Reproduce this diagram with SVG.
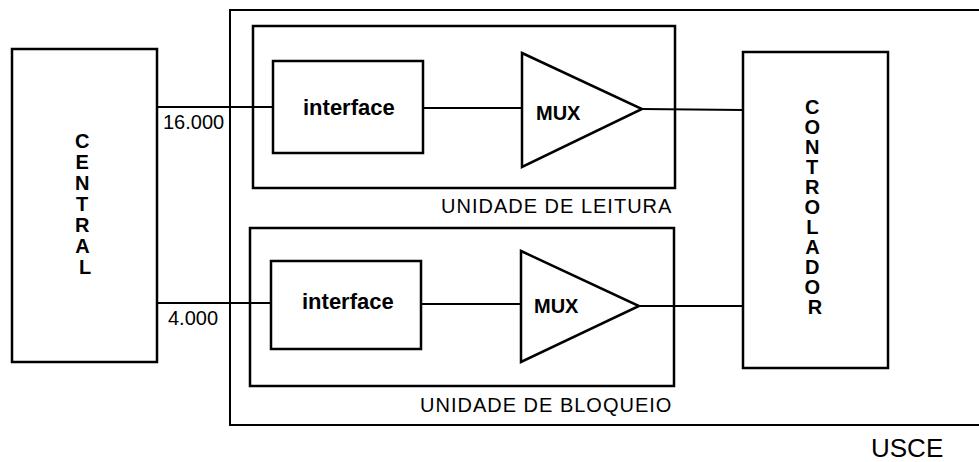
<svg xmlns="http://www.w3.org/2000/svg" width="979" height="462" viewBox="0 0 979 462">
  <style>
    .box { fill: none; stroke: #000; stroke-width: 2.5; }
    .frame { fill: none; stroke: #000; stroke-width: 2; }
    .wire { fill: none; stroke: #000; stroke-width: 2; }
    .t { font-family: "Liberation Sans", Arial, sans-serif; fill: #000; }
    .lbl { font-size: 22px; font-weight: bold; }
    .mux { font-size: 20px; font-weight: bold; }
    .unit { font-size: 20px; letter-spacing: 1px; }
    .num { font-size: 20px; }
    .vert { font-size: 20px; font-weight: bold; text-anchor: middle; }
  </style>

  <!-- USCE enclosure, open at the right edge -->
  <g id="usce">
    <path class="frame" d="M979,10 H230 V425 H979"/>
    <text class="t" x="871" y="457" font-size="26">USCE</text>
  </g>

  <g id="central">
    <rect class="box" x="12" y="49" width="145" height="313"/>
    <text class="t vert" x="85">
      <tspan x="85" y="148">C</tspan>
      <tspan x="85" dy="21">E</tspan>
      <tspan x="85" dy="21">N</tspan>
      <tspan x="85" dy="21">T</tspan>
      <tspan x="85" dy="21">R</tspan>
      <tspan x="85" dy="21">A</tspan>
      <tspan x="85" dy="21">L</tspan>
    </text>
  </g>

  <g id="unidade-leitura">
    <rect class="box" x="253" y="26" width="422" height="162"/>
    <text class="t unit" x="441" y="213">UNIDADE DE LEITURA</text>
  </g>

  <g id="interface-leitura">
    <rect class="box" x="273" y="61" width="150" height="92"/>
    <text class="t lbl" x="303" y="115">interface</text>
  </g>

  <g id="mux-leitura">
    <polygon class="box" points="522,53 642,109 522,167"/>
    <text class="t mux" x="536" y="120">MUX</text>
  </g>

  <g id="unidade-bloqueio">
    <rect class="box" x="250" y="228" width="424" height="158"/>
    <text class="t unit" x="420" y="412">UNIDADE DE BLOQUEIO</text>
  </g>

  <g id="interface-bloqueio">
    <rect class="box" x="271" y="261" width="150" height="88"/>
    <text class="t lbl" x="302" y="309">interface</text>
  </g>

  <g id="mux-bloqueio">
    <polygon class="box" points="521,251 639,306 521,362"/>
    <text class="t mux" x="534" y="313">MUX</text>
  </g>

  <g id="controlador">
    <rect class="box" x="743" y="52" width="145" height="316"/>
    <text class="t vert" x="815" font-size="18">
      <tspan x="815" y="114">C</tspan>
      <tspan x="815" dy="20">O</tspan>
      <tspan x="815" dy="20">N</tspan>
      <tspan x="815" dy="20">T</tspan>
      <tspan x="815" dy="20">R</tspan>
      <tspan x="815" dy="20">O</tspan>
      <tspan x="815" dy="20">L</tspan>
      <tspan x="815" dy="20">A</tspan>
      <tspan x="815" dy="20">D</tspan>
      <tspan x="815" dy="20">O</tspan>
      <tspan x="815" dy="20">R</tspan>
    </text>
  </g>

  <!-- signal lines -->
  <g id="connectors">
    <line class="wire" x1="157" y1="107" x2="273" y2="107"/>
    <line class="wire" x1="423" y1="108" x2="522" y2="108"/>
    <line class="wire" x1="642" y1="109" x2="743" y2="110"/>
    <line class="wire" x1="157" y1="303" x2="271" y2="303"/>
    <line class="wire" x1="421" y1="304" x2="521" y2="304"/>
    <line class="wire" x1="639" y1="306" x2="743" y2="306"/>
    <text class="t num" x="163" y="129">16.000</text>
    <text class="t num" x="168" y="325">4.000</text>
  </g>
</svg>
